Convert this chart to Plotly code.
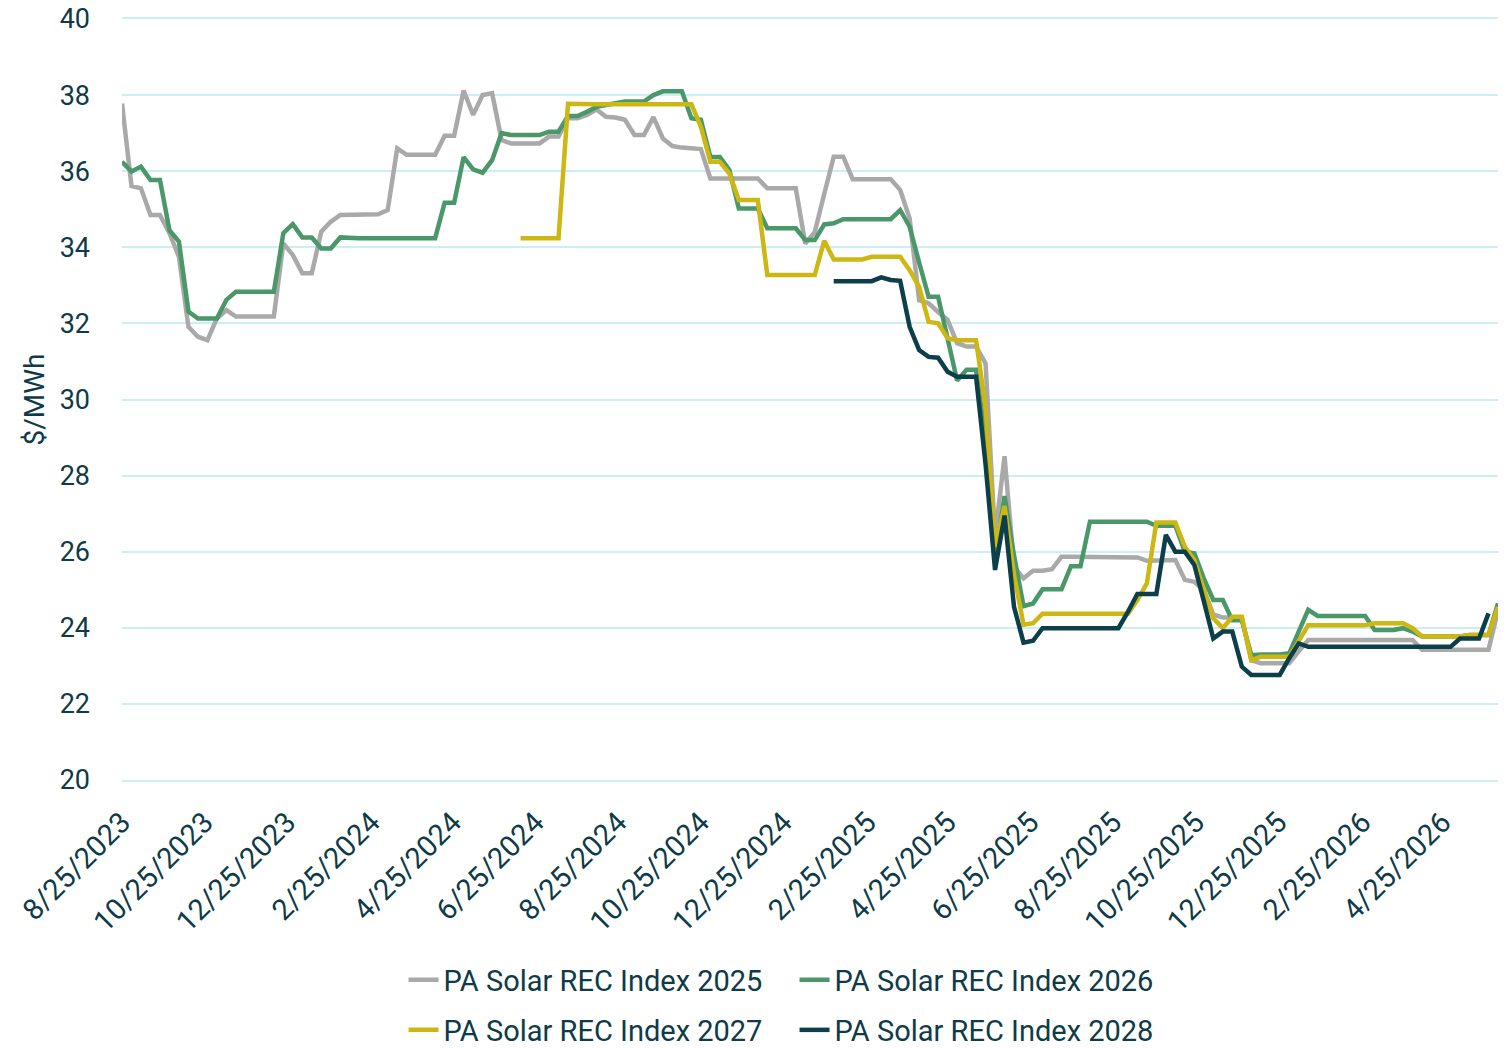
import pandas as pd
import plotly.graph_objects as go

# Weekly observations (Fridays) from 8/25/2023 through 6/5/2026
start_date = "2023-08-25"
n_weeks = 146
dates = pd.date_range(start_date, periods=n_weeks, freq="7D")

rec_2025 = [
    37.78, 35.61, 35.55, 34.85, 34.85, 34.37, 33.75, 31.91, 31.65, 31.56,
    32.13, 32.35, 32.18, 32.18, 32.18, 32.18, 32.18, 34.10, 33.80, 33.32,
    33.32, 34.41, 34.67, 34.85, 34.85, 34.85, 34.85, 34.87, 34.98, 36.60,
    36.43, 36.43, 36.43, 36.43, 36.93, 36.93, 38.12, 37.48, 38.00, 38.05,
    36.82, 36.73, 36.73, 36.73, 36.73, 36.91, 36.91, 37.39, 37.39, 37.48,
    37.62, 37.43, 37.41, 37.35, 36.95, 36.95, 37.42, 36.86, 36.66, 36.62,
    36.60, 36.58, 35.81, 35.81, 35.81, 35.81, 35.81, 35.81, 35.55, 35.55,
    35.55, 35.55, 34.10, 34.40, 35.40, 36.38, 36.38, 35.79, 35.79, 35.79,
    35.79, 35.79, 35.51, 34.76, 32.61, 32.53, 32.30, 32.09, 31.48, 31.39,
    31.39, 30.95, 26.39, 28.51, 25.60, 25.30, 25.50, 25.50, 25.54, 25.87,
    25.87, 25.87, 25.87, 25.87, 25.87, 25.87, 25.87, 25.85, 25.76, 25.76,
    25.76, 25.78, 25.26, 25.21, 24.99, 24.35, 24.27, 24.27, 24.27, 23.15,
    23.07, 23.07, 23.07, 23.07, 23.38, 23.68, 23.68, 23.68, 23.68, 23.68,
    23.68, 23.68, 23.68, 23.68, 23.68, 23.68, 23.68, 23.42, 23.42, 23.42,
    23.42, 23.42, 23.42, 23.42, 23.42, 24.46,
]

rec_2026 = [
    36.25, 35.99, 36.12, 35.77, 35.77, 34.45, 34.15, 32.31, 32.13, 32.13,
    32.13, 32.62, 32.83, 32.83, 32.83, 32.83, 32.83, 34.37, 34.61, 34.26,
    34.26, 33.97, 33.97, 34.26, 34.24, 34.24, 34.24, 34.24, 34.24, 34.24,
    34.24, 34.24, 34.24, 34.24, 35.17, 35.17, 36.37, 36.05, 35.96, 36.29,
    37.00, 36.95, 36.95, 36.95, 36.95, 37.04, 37.04, 37.45, 37.45, 37.56,
    37.69, 37.74, 37.78, 37.83, 37.83, 37.83, 38.00, 38.10, 38.10, 38.10,
    37.39, 37.35, 36.37, 36.37, 36.03, 35.02, 35.02, 35.02, 34.50, 34.50,
    34.50, 34.50, 34.19, 34.19, 34.60, 34.63, 34.74, 34.74, 34.74, 34.74,
    34.74, 34.74, 34.98, 34.54, 33.60, 32.70, 32.70, 31.60, 30.50, 30.78,
    30.78, 29.00, 25.80, 27.46, 25.90, 24.57, 24.64, 25.01, 25.01, 25.01,
    25.62, 25.62, 26.79, 26.79, 26.79, 26.79, 26.79, 26.79, 26.79, 26.68,
    26.68, 26.68, 26.00, 25.96, 25.30, 24.73, 24.73, 24.20, 24.20, 23.28,
    23.30, 23.30, 23.30, 23.33, 23.90, 24.47, 24.31, 24.31, 24.31, 24.31,
    24.31, 24.31, 23.94, 23.94, 23.94, 23.99, 23.90, 23.77, 23.77, 23.77,
    23.77, 23.77, 23.81, 23.81, 23.81, 24.64,
]

rec_2027 = [None] * 42 + [
    34.24, 34.24, 34.24, 34.24, 34.24, 37.77, 37.76, 37.76,
    37.76, 37.76, 37.76, 37.76, 37.76, 37.76, 37.76, 37.76, 37.76, 37.76,
    37.76, 37.17, 36.25, 36.25, 35.94, 35.24, 35.24, 35.24, 33.27, 33.27,
    33.27, 33.27, 33.27, 33.27, 34.17, 33.68, 33.68, 33.68, 33.68, 33.75,
    33.75, 33.75, 33.75, 33.40, 32.96, 32.04, 32.00, 31.61, 31.56, 31.56,
    31.56, 29.80, 26.13, 27.20, 25.40, 24.08, 24.12, 24.37, 24.37, 24.37,
    24.37, 24.37, 24.37, 24.37, 24.37, 24.37, 24.37, 24.73, 25.17, 26.77,
    26.77, 26.77, 26.13, 25.78, 25.00, 24.25, 23.99, 24.29, 24.29, 23.15,
    23.24, 23.24, 23.24, 23.24, 23.65, 24.07, 24.07, 24.07, 24.07, 24.07,
    24.07, 24.07, 24.12, 24.12, 24.12, 24.12, 23.99, 23.77, 23.77, 23.77,
    23.77, 23.77, 23.81, 23.81, 23.81, 24.55,
]

rec_2028 = [None] * 75 + [
    33.11, 33.11, 33.11, 33.11, 33.11, 33.21, 33.14, 33.12, 31.91, 31.30,
    31.12, 31.10, 30.73, 30.60, 30.60, 30.60, 28.30, 25.52, 26.95, 24.55,
    23.61, 23.66, 23.99, 23.99, 23.99, 23.99, 23.99, 23.99, 23.99, 23.99,
    23.99, 24.42, 24.89, 24.89, 24.89, 26.44, 26.00, 26.00, 25.65, 24.70,
    23.72, 23.90, 23.90, 22.98, 22.76, 22.76, 22.76, 22.76, 23.20, 23.59,
    23.50, 23.50, 23.50, 23.50, 23.50, 23.50, 23.50, 23.50, 23.50, 23.50,
    23.50, 23.50, 23.50, 23.50, 23.50, 23.50, 23.72, 23.72, 23.72, 24.38,
]

series_names = [
    "PA Solar REC Index 2025",
    "PA Solar REC Index 2026",
    "PA Solar REC Index 2027",
    "PA Solar REC Index 2028",
]
series_values = [rec_2025, rec_2026, rec_2027, rec_2028]
series_colors = ["#A9A9A9", "#4A976A", "#CDB713", "#0C3F4A"]
series_legends = ["legend", "legend", "legend2", "legend2"]

tick_dates = [
    "2023-08-25", "2023-10-25", "2023-12-25", "2024-02-25", "2024-04-25",
    "2024-06-25", "2024-08-25", "2024-10-25", "2024-12-25", "2025-02-25",
    "2025-04-25", "2025-06-25", "2025-08-25", "2025-10-25", "2025-12-25",
    "2026-02-25", "2026-04-25",
]
tick_labels = [
    "8/25/2023", "10/25/2023", "12/25/2023", "2/25/2024", "4/25/2024",
    "6/25/2024", "8/25/2024", "10/25/2024", "12/25/2024", "2/25/2025",
    "4/25/2025", "6/25/2025", "8/25/2025", "10/25/2025", "12/25/2025",
    "2/25/2026", "4/25/2026",
]

TEXT = "#0E3B47"
GRID = "#CBEFF5"
FONT = "Roboto"

fig = go.Figure()
for name, vals, color, lg in zip(series_names, series_values, series_colors, series_legends):
    fig.add_trace(go.Scatter(
        x=dates, y=vals, name=name, mode="lines",
        line=dict(color=color, width=4.5, shape="linear"),
        connectgaps=False, legend=lg,
    ))

legend_common = dict(
    orientation="h", xref="paper", x=0.2046, xanchor="left",
    yref="container", yanchor="middle",
    font=dict(family=FONT, size=29, color=TEXT), entrywidth=346,
    bgcolor="rgba(0,0,0,0)",
)

fig.update_layout(
    width=1509, height=1048,
    margin=dict(l=122, r=11, t=19, b=268, autoexpand=False),
    paper_bgcolor="white", plot_bgcolor="white",
    font=dict(family=FONT, color=TEXT, size=27),
    showlegend=True,
    legend=dict(legend_common, y=1 - 980 / 1048),
    legend2=dict(legend_common, y=1 - 1030 / 1048),
)

fig.update_xaxes(
    type="date", range=[dates[0], dates[-1]],
    tickmode="array", tickvals=tick_dates, ticktext=tick_labels,
    tickangle=-45, tickfont=dict(family=FONT, size=29, color=TEXT),
    showgrid=False, zeroline=False, showline=True, mirror=True,
    linecolor=GRID, linewidth=1.5,
    ticks="", ticklabelstandoff=12, automargin=False,
)
fig.update_yaxes(
    range=[20, 40], dtick=2, tick0=20,
    tickfont=dict(family=FONT, size=27, color=TEXT),
    showgrid=True, gridcolor=GRID, gridwidth=1.5, zeroline=False,
    showline=False, ticks="", ticklabelstandoff=31, automargin=False,
    title=dict(text="$/MWh", font=dict(family=FONT, size=28, color=TEXT), standoff=6),
)

fig.write_html(
    "out.html",
    config={"displayModeBar": False},
    post_script="document.body.style.margin='0';document.body.style.overflow='hidden';",
)
